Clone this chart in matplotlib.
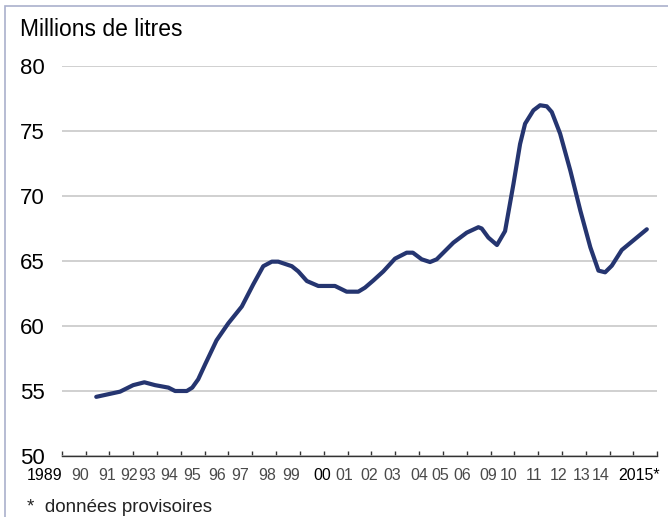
import numpy as np
import matplotlib.pyplot as plt
from matplotlib.patches import Rectangle

plt.rcParams['font.family'] = ['Liberation Sans', 'DejaVu Sans']

# line: position along the axis (1 unit = 1 tick) and millions of litres
x_pos = [1.45, 2.45, 3.0, 3.47, 3.92, 4.48, 4.76, 5.25, 5.48, 5.73, 6.02, 6.5, 6.99,
         7.56, 8.04, 8.46, 8.82, 9.09, 9.66, 9.93, 10.29, 10.77, 11.47, 11.96, 12.45,
         12.73, 13.08, 13.5, 13.99, 14.48, 14.74, 15.11, 15.46, 15.74, 16.44, 17.0,
         17.49, 17.63, 17.91, 18.27, 18.61, 18.96, 19.24, 19.45, 19.8, 20.08, 20.36,
         20.57, 20.92, 21.35, 21.77, 22.19, 22.53, 22.81, 23.09, 23.51, 24.56]
volume = [54.55, 54.95, 55.45, 55.67, 55.45, 55.26, 55.0, 55.0, 55.26, 55.9, 57.05, 58.9,
          60.2, 61.5, 63.2, 64.6, 64.95, 64.95, 64.6, 64.2, 63.46, 63.08, 63.08, 62.64,
          62.64, 62.95, 63.5, 64.2, 65.18, 65.64, 65.64, 65.13, 64.92, 65.13, 66.41,
          67.18, 67.6, 67.5, 66.8, 66.23, 67.3, 70.9, 74.0, 75.56, 76.59, 76.98, 76.9,
          76.46, 74.8, 71.95, 68.87, 66.05, 64.26, 64.13, 64.64, 65.85, 67.44]

year_labels = ['1989', '90', '91', '92', '93', '94', '95', '96', '97', '98', '99', '00',
               '01', '02', '03', '04', '05', '06', '09', '10', '11', '12', '13', '14',
               '2015*']
y_ticks = [50, 55, 60, 65, 70, 75, 80]

# labels in the original are not evenly spread, so place them where they sit
label_pos = [-0.70, 0.77, 1.89, 2.83, 3.60, 4.50, 5.47, 6.52, 7.49, 8.62, 9.61, 10.93,
             11.85, 12.90, 13.87, 15.0, 15.91, 16.81, 17.90, 18.78, 19.81, 20.84, 21.83,
             22.63, 24.23]
dark_labels = ['1989', '00', '2015*']

W, H = 668, 517
fig = plt.figure(figsize=(W / 100, H / 100), dpi=100)
ax = fig.add_axes([61.7 / W, (H - 456) / H, (657.3 - 61.7) / W, (456 - 66) / H])

ax.plot(x_pos, volume, color='#253570', lw=3.0, solid_joinstyle='round',
        solid_capstyle='round', zorder=3)

ax.set_yticks(y_ticks)
ax.grid(axis='y', color='#c4c4c4', lw=1.1)
ax.set_axisbelow(True)
ax.tick_params(axis='y', length=0, pad=12, labelsize=16, labelcolor='black')

ax.set_xticks(np.arange(0, 26))
ax.set_xticklabels([])
ax.tick_params(axis='x', direction='in', length=3.8, width=1, color='#333333')

ax.set_xlim(0, 25)
ax.set_ylim(50, 80)

# year labels as texts under the axis (the first one sits left of the axis start)
for lbl, pos in zip(year_labels, label_pos):
    ax.annotate(lbl, (pos, 0), xycoords=ax.get_xaxis_transform(), xytext=(0, -9),
                textcoords='offset points', ha='center', va='top', fontsize=11.5,
                color='black' if lbl in dark_labels else '#4a4a4a', annotation_clip=False)

for s in ['left', 'right', 'top']:
    ax.spines[s].set_visible(False)
ax.spines['bottom'].set_color('#333333')
ax.spines['bottom'].set_linewidth(1)

fig.text(20 / W, 1 - 29 / H, 'Millions de litres', fontsize=16.5, va='center', ha='left')
fig.text(27 / W, 1 - 508 / H, '*  données provisoires', fontsize=13.5, va='center',
         ha='left', color='#222222')

fig.patches.append(Rectangle((5 / W, -0.1), 2, 1.1 - 6 / H, transform=fig.transFigure,
                             fill=False, ec='#aab0cc', lw=1.2))

fig.savefig('out.png', dpi=100)
